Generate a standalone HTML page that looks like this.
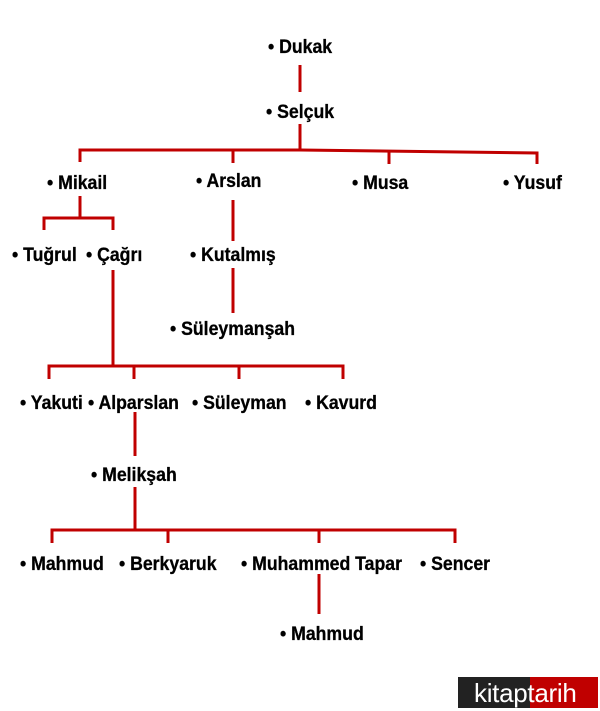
<!DOCTYPE html>
<html><head><meta charset="utf-8"><style>
html,body{margin:0;padding:0;background:#fff;}
#c{position:relative;width:600px;height:711px;overflow:hidden;}
.t{position:absolute;font-family:"Liberation Sans",Arial,sans-serif;font-weight:bold;font-size:19px;color:#000;white-space:nowrap;transform:scaleX(.93);transform-origin:left center;line-height:20px;margin-top:-8px;-webkit-text-stroke:0.3px #000;}
svg{position:absolute;left:0;top:0;}
</style></head><body><div id="c">
<svg width="600" height="711">
<g stroke="#c00000" stroke-width="3" fill="none">
<line x1="300" y1="65" x2="300" y2="92"/>
<line x1="300" y1="124" x2="300" y2="150"/>
<polyline points="80,162 80,150 300,150 537,153 537,164"/>
<line x1="233" y1="151" x2="233" y2="163"/>
<line x1="389" y1="152" x2="389" y2="164"/>
<line x1="80" y1="196" x2="80" y2="218"/>
<polyline points="44,230 44,218 113,218 113,230"/>
<line x1="233" y1="200" x2="233" y2="241"/>
<line x1="233" y1="268" x2="233" y2="313"/>
<line x1="113" y1="270" x2="113" y2="366"/>
<polyline points="49,379 49,366 343,366 343,379"/>
<line x1="134" y1="366" x2="134" y2="379"/>
<line x1="239" y1="366" x2="239" y2="379"/>
<line x1="135" y1="412" x2="135" y2="456"/>
<line x1="135" y1="487" x2="135" y2="530"/>
<polyline points="52,543 52,530 455,530 455,543"/>
<line x1="168" y1="530" x2="168" y2="543"/>
<line x1="319" y1="530" x2="319" y2="543"/>
<line x1="319" y1="574" x2="319" y2="614"/>
</g>
<rect x="458" y="677" width="72" height="31" fill="#222"/>
<rect x="530" y="677" width="68" height="31" fill="#c00000"/>
</svg>
<div class="t" style="left:268px;top:46px">• Dukak</div>
<div class="t" style="left:266px;top:111px">• Selçuk</div>
<div class="t" style="left:47px;top:182px">• Mikail</div>
<div class="t" style="left:196px;top:180px">• Arslan</div>
<div class="t" style="left:352px;top:182px">• Musa</div>
<div class="t" style="left:503px;top:182px">• Yusuf</div>
<div class="t" style="left:12px;top:254px">• Tuğrul</div>
<div class="t" style="left:86px;top:254px">• Çağrı</div>
<div class="t" style="left:190px;top:254px">• Kutalmış</div>
<div class="t" style="left:170px;top:328px">• Süleymanşah</div>
<div class="t" style="left:20px;top:402px">• Yakuti</div>
<div class="t" style="left:88px;top:402px">• Alparslan</div>
<div class="t" style="left:192px;top:402px">• Süleyman</div>
<div class="t" style="left:305px;top:402px">• Kavurd</div>
<div class="t" style="left:91px;top:474px">• Melikşah</div>
<div class="t" style="left:20px;top:563px">• Mahmud</div>
<div class="t" style="left:119px;top:563px">• Berkyaruk</div>
<div class="t" style="left:241px;top:563px">• Muhammed Tapar</div>
<div class="t" style="left:420px;top:563px">• Sencer</div>
<div class="t" style="left:280px;top:633px">• Mahmud</div>
<div style="position:absolute;left:474px;top:678px;font-family:'Liberation Sans',Arial,sans-serif;font-size:26px;color:#fff;line-height:30px;letter-spacing:-0.3px">kitaptarih</div>
</div></body></html>
